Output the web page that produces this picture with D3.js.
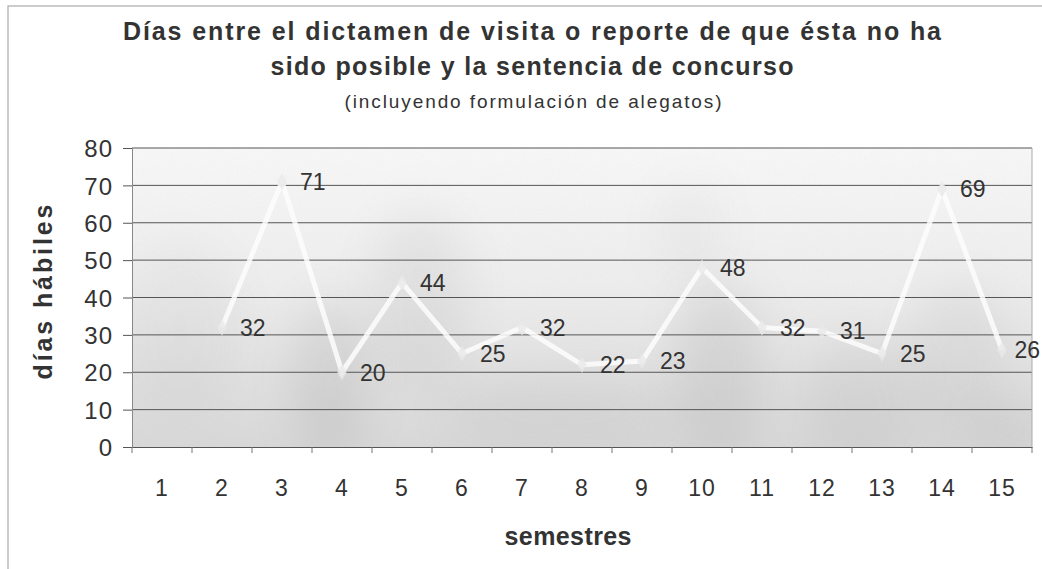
<!DOCTYPE html>
<html lang="es">
<head>
    <meta charset="UTF-8">
    <title>Días entre el dictamen y la sentencia</title>
    <script src="https://d3js.org/d3.v7.min.js"></script>
    <style>
        body {
            margin: 0;
            background: #fff;
            font-family: Arial, "Liberation Sans", sans-serif;
        }
        .grid line { stroke: #555; stroke-width: 1; }
        .tick-y text { font-size: 24px; fill: #333; letter-spacing: 1px; }
        .tick-x text { font-size: 23px; fill: #333; letter-spacing: 1px; }
        .lbl { font-size: 23px; fill: #333; }
        .title { font-weight: bold; font-size: 25px; fill: #333; }
    </style>
</head>
<body>
    <svg id="chart"></svg>

    <script>
        const semestres = ["1", "2", "3", "4", "5", "6", "7", "8", "9", "10", "11", "12", "13", "14", "15"];
        const dias = [null, 32, 71, 20, 44, 25, 32, 22, 23, 48, 32, 31, 25, 69, 26];
        const yTicks = [0, 10, 20, 30, 40, 50, 60, 70, 80];

        const width = 1042;
        const height = 569;
        const plot = { left: 132, right: 1032, top: 148, bottom: 447 };

        const svg = d3.select("#chart")
                      .attr("width", width)
                      .attr("height", height);

        const x = d3.scaleBand()
                    .domain(semestres)
                    .range([plot.left, plot.right]);

        const y = d3.scaleLinear()
                    .domain([0, 80])
                    .range([plot.bottom, plot.top]);

        // chart border (scanned page edge)
        svg.append("rect")
           .attr("x", 8).attr("y", 6)
           .attr("width", width).attr("height", height)
           .attr("fill", "none")
           .attr("stroke", "#999");

        // plot background: grey gradient with blurred blotches
        const defs = svg.append("defs");
        const grad = defs.append("linearGradient")
                         .attr("id", "bg").attr("x1", 0).attr("y1", 0).attr("x2", 0).attr("y2", 1);
        grad.append("stop").attr("offset", "0%").attr("stop-color", "#fafafa");
        grad.append("stop").attr("offset", "45%").attr("stop-color", "#f0f0f0");
        grad.append("stop").attr("offset", "100%").attr("stop-color", "#dadada");

        defs.append("filter").attr("id", "blur")
            .attr("x", "-50%").attr("y", "-50%").attr("width", "200%").attr("height", "200%")
            .append("feGaussianBlur").attr("stdDeviation", 22);

        const noise = defs.append("filter").attr("id", "noise");
        noise.append("feTurbulence").attr("type", "fractalNoise")
             .attr("baseFrequency", 0.9).attr("numOctaves", 1).attr("seed", 3);
        noise.append("feColorMatrix").attr("type", "matrix")
             .attr("values", "0 0 0 0 0.4  0 0 0 0 0.4  0 0 0 0 0.4  0 0 0 0.35 0");

        defs.append("clipPath").attr("id", "clip")
            .append("rect")
            .attr("x", plot.left).attr("y", plot.top)
            .attr("width", plot.right - plot.left).attr("height", plot.bottom - plot.top);

        const bg = svg.append("g").attr("clip-path", "url(#clip)");
        bg.append("rect")
          .attr("x", plot.left).attr("y", plot.top)
          .attr("width", plot.right - plot.left).attr("height", plot.bottom - plot.top)
          .attr("fill", "url(#bg)");

        // blotches from the scanned background (decoration)
        const blobs = [
            [180, 330, 60, 90, 0.06], [330, 380, 40, 80, 0.14], [420, 300, 50, 90, 0.10],
            [560, 410, 120, 40, 0.08], [720, 370, 45, 90, 0.14], [690, 230, 35, 50, 0.06],
            [860, 400, 60, 60, 0.10], [960, 360, 50, 80, 0.09], [1010, 430, 40, 30, 0.09]
        ];
        bg.selectAll(".blob")
          .data(blobs)
          .enter()
          .append("ellipse")
          .attr("cx", d => d[0]).attr("cy", d => d[1])
          .attr("rx", d => d[2]).attr("ry", d => d[3])
          .attr("fill", "#777")
          .attr("opacity", d => d[4])
          .attr("filter", "url(#blur)");

        bg.append("rect")
          .attr("x", plot.left).attr("y", plot.top)
          .attr("width", plot.right - plot.left).attr("height", plot.bottom - plot.top)
          .attr("filter", "url(#noise)")
          .attr("opacity", 0.3);

        // horizontal gridlines
        svg.append("g")
           .attr("class", "grid")
           .selectAll("line")
           .data(yTicks.filter(d => d > 0))
           .enter()
           .append("line")
           .attr("x1", plot.left).attr("x2", plot.right)
           .attr("y1", d => y(d)).attr("y2", d => y(d));

        // plot right edge
        svg.append("line")
           .attr("x1", plot.right).attr("x2", plot.right)
           .attr("y1", plot.top).attr("y2", plot.bottom)
           .attr("stroke", "#aaa");

        // y axis
        const yAxis = svg.append("g")
           .attr("class", "tick-y")
           .attr("transform", `translate(${plot.left}, 0)`)
           .call(d3.axisLeft(y).tickValues(yTicks).tickSize(9).tickPadding(10));
        yAxis.select(".domain").attr("stroke", "#888");
        yAxis.selectAll(".tick line").attr("stroke", "#555");
        yAxis.selectAll("text").attr("fill", "#333").attr("dy", "0.36em");

        // x axis: ticks between categories
        const xAxis = svg.append("g")
           .attr("class", "tick-x")
           .attr("transform", `translate(0, ${plot.bottom})`)
           .call(d3.axisBottom(x).tickSize(0).tickPadding(33));
        xAxis.select(".domain").attr("stroke", "#555");
        xAxis.selectAll("text").attr("fill", "#333");

        svg.append("g")
           .selectAll("line")
           .data(semestres.concat(["end"]))
           .enter()
           .append("line")
           .attr("x1", (d, i) => i < semestres.length ? x(d) : plot.right)
           .attr("x2", (d, i) => i < semestres.length ? x(d) : plot.right)
           .attr("y1", plot.bottom)
           .attr("y2", plot.bottom + 6)
           .attr("stroke", "#777");

        // series line (white, faint)
        const pts = semestres.map((s, i) => ({ s: s, v: dias[i] })).filter(d => d.v !== null);
        const line = d3.line()
                       .x(d => x(d.s) + x.bandwidth() / 2)
                       .y(d => y(d.v));

        svg.append("path")
           .datum(pts)
           .attr("d", line)
           .attr("fill", "none")
           .attr("stroke", "#fdfdfd")
           .attr("stroke-width", 5)
           .attr("stroke-linejoin", "miter")
           .attr("opacity", 0.85);

        svg.selectAll(".mark")
           .data(pts)
           .enter()
           .append("path")
           .attr("class", "mark")
           .attr("transform", d => `translate(${x(d.s) + x.bandwidth() / 2}, ${y(d.v)})`)
           .attr("d", d3.symbol(d3.symbolDiamond, 80))
           .attr("fill", "#e8e8e8")
           .attr("opacity", 0.8);

        // data labels, right of each point (kept inside the page)
        svg.selectAll(".lbl")
           .data(pts)
           .enter()
           .append("text")
           .attr("class", "lbl")
           .attr("y", d => y(d.v))
           .attr("dy", "0.36em")
           .text(d => d.v)
           .attr("x", function(d) {
               const w = this.getComputedTextLength();
               return Math.min(x(d.s) + x.bandwidth() / 2 + 18, width - 2 - w);
           });

        // titles
        svg.append("text").attr("class", "title")
           .attr("x", 532).attr("y", 40)
           .attr("text-anchor", "middle")
           .attr("textLength", 818).attr("lengthAdjust", "spacing")
           .text("Días entre el dictamen de visita o reporte de que ésta no ha");

        svg.append("text").attr("class", "title")
           .attr("x", 532).attr("y", 75)
           .attr("text-anchor", "middle")
           .attr("textLength", 523).attr("lengthAdjust", "spacing")
           .text("sido posible y la sentencia de concurso");

        svg.append("text")
           .attr("x", 533).attr("y", 108)
           .attr("text-anchor", "middle")
           .attr("font-size", 19).attr("fill", "#333")
           .attr("textLength", 377).attr("lengthAdjust", "spacing")
           .text("(incluyendo formulación de alegatos)");

        svg.append("text").attr("class", "title")
           .attr("x", 568).attr("y", 545)
           .attr("text-anchor", "middle")
           .attr("font-size", 24)
           .attr("textLength", 127).attr("lengthAdjust", "spacing")
           .text("semestres");

        svg.append("text").attr("class", "title")
           .attr("transform", "translate(52, 292) rotate(-90)")
           .attr("text-anchor", "middle")
           .attr("font-size", 25)
           .attr("textLength", 175).attr("lengthAdjust", "spacing")
           .text("días hábiles");
    </script>
</body>
</html>
